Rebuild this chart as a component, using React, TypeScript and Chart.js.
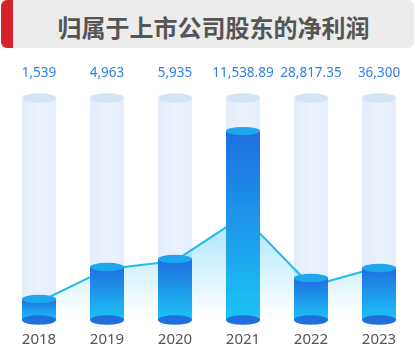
import React, { useEffect, useRef } from "react";
import { Chart, registerables } from "chart.js";

Chart.register(...registerables);

const categories = ["2018", "2019", "2020", "2021", "2022", "2023"];
const valueLabels = ["1,539", "4,963", "5,935", "11,538.89", "28,817.35", "36,300"];
const barValues = [9.5, 23.9, 27.5, 85.1, 18.9, 23.4];
const lineValues = [8.1, 23.0, 26.6, 46.8, 15.3, 23.9];
const trackValues = [100, 100, 100, 100, 100, 100];
const titleText = "归属于上市公司股东的净利润";

const cylinderPlugin = {
  id: "cylinders",
  afterDatasetDraw(chart: any, args: any) {
    const ds: any = chart.data.datasets[args.index];
    const kind = ds.cyl;
    if (!kind) return;
    const ctx = chart.ctx;
    const meta = chart.getDatasetMeta(args.index);
    meta.data.forEach((el: any) => {
      const { x, y, base, width } = el.getProps(["x", "y", "base", "width"], true);
      const rx = width / 2;
      const ry = 4.8;
      ctx.save();
      if (kind === "track") {
        const hg = ctx.createLinearGradient(x - rx, 0, x + rx, 0);
        hg.addColorStop(0, "#e3ecfa");
        hg.addColorStop(0.5, "#eaf2fd");
        hg.addColorStop(1, "#e6eefb");
        ctx.fillStyle = hg;
        ctx.fillRect(x - rx, y, width, base - y);
        ctx.beginPath();
        ctx.ellipse(x, y, rx, ry, 0, 0, Math.PI * 2);
        ctx.fillStyle = "#d4e4f7";
        ctx.fill();
      } else {
        const vg = ctx.createLinearGradient(0, y, 0, base);
        vg.addColorStop(0, "#1f6ee0");
        vg.addColorStop(1, "#1bc4f5");
        ctx.fillStyle = vg;
        ctx.fillRect(x - rx, y, width, base - y);
        ctx.beginPath();
        ctx.ellipse(x, base, rx, ry, 0, 0, Math.PI * 2);
        ctx.fillStyle = "#1f6fdc";
        ctx.fill();
        ctx.beginPath();
        ctx.ellipse(x, y, rx, 4.2, 0, 0, Math.PI * 2);
        ctx.fillStyle = "#1ea6ee";
        ctx.fill();
      }
      ctx.restore();
    });
  },
  afterDraw(chart: any) {
    const ctx = chart.ctx;
    const idx = chart.data.datasets.findIndex((d: any) => d.cyl === "front");
    const meta = chart.getDatasetMeta(idx);
    ctx.save();
    ctx.font = "13.5px 'Noto Sans', sans-serif";
    ctx.fillStyle = "#2f80e6";
    ctx.textAlign = "center";
    ctx.textBaseline = "middle";
    meta.data.forEach((el: any, i: number) => {
      ctx.fillText(valueLabels[i], el.x, chart.chartArea.top - 25);
    });
    ctx.restore();
  },
};

export default function App() {
  const canvasRef = useRef<HTMLCanvasElement | null>(null);

  useEffect(() => {
    document.body.style.margin = "0";
    const canvas = canvasRef.current;
    if (!canvas) return;
    const chart = new Chart(canvas, {
      type: "bar",
      data: {
        labels: categories,
        datasets: [
          {
            type: "bar",
            data: trackValues,
            backgroundColor: "rgba(0,0,0,0)",
            barThickness: 34,
            grouped: false,
            order: 3,
            cyl: "track",
          } as any,
          {
            type: "line",
            data: lineValues,
            borderColor: "#22bcef",
            borderWidth: 2,
            pointRadius: 0,
            tension: 0,
            fill: "origin",
            order: 2,
            backgroundColor: (c: any) => {
              const area = c.chart.chartArea;
              if (!area) return "rgba(0,0,0,0)";
              const g = c.chart.ctx.createLinearGradient(0, 205, 0, 318);
              g.addColorStop(0, "rgba(30,185,240,0.42)");
              g.addColorStop(1, "rgba(30,185,240,0)");
              return g;
            },
          } as any,
          {
            type: "bar",
            data: barValues,
            backgroundColor: "rgba(0,0,0,0)",
            barThickness: 34,
            grouped: false,
            order: 1,
            cyl: "front",
          } as any,
        ],
      },
      options: {
        responsive: true,
        maintainAspectRatio: false,
        animation: false,
        layout: { padding: { top: 98, bottom: 0, left: 5, right: 2 } },
        plugins: { legend: { display: false }, tooltip: { enabled: false } },
        scales: {
          x: {
            grid: { display: false, drawTicks: false },
            border: { display: false },
            afterFit: (scale: any) => {
              scale.height = 33;
            },
            ticks: {
              color: "#555555",
              padding: 11,
              font: { size: 15, family: "'Noto Sans', sans-serif" },
            },
          },
          y: { display: false, min: 0, max: 100 },
        },
      },
      plugins: [cylinderPlugin],
    } as any);
    return () => chart.destroy();
  }, []);

  return (
    <div style={{ position: "relative", width: 415, height: 353, background: "#fff" }}>
      <div style={{ position: "absolute", left: 0, top: 0, width: 415, height: 353 }}>
        <canvas ref={canvasRef} />
      </div>
      <div
        style={{
          position: "absolute",
          left: 1,
          top: 0,
          width: 413,
          height: 48,
          boxSizing: "border-box",
          borderLeft: "12px solid #d8222b",
          borderRadius: 6,
          background: "#ececec",
          display: "flex",
          alignItems: "center",
          justifyContent: "center",
          paddingTop: 4,
          fontFamily: "'Noto Sans CJK SC', sans-serif",
          fontWeight: 700,
          fontSize: 24,
          color: "#555555",
        }}
      >
        {titleText}
      </div>
    </div>
  );
}
